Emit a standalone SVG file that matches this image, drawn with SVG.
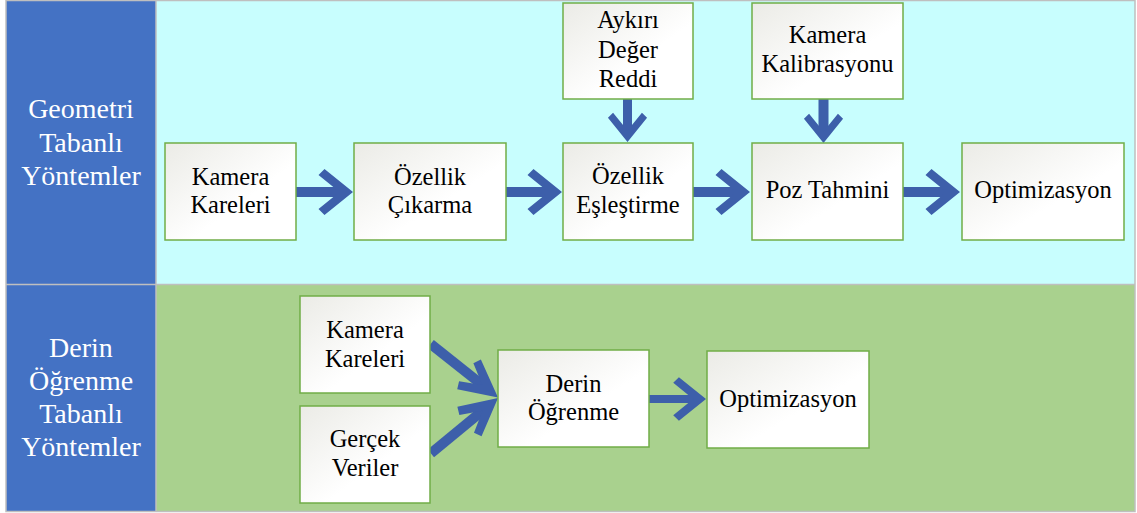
<svg xmlns="http://www.w3.org/2000/svg" xmlns:xlink="http://www.w3.org/1999/xlink" width="1137" height="513" viewBox="0 0 1137 513">
<style>
.nb{stroke:#70AD47;stroke-width:1.5;fill:url(#ng)}
.nt{font-family:"Times New Roman",Times,"Liberation Serif",Tinos,"Noto Serif","DejaVu Serif",serif;font-size:24.5px;fill:#000;text-anchor:middle}
.lt{font-family:"Times New Roman",Times,"Liberation Serif",Tinos,"Noto Serif","DejaVu Serif",serif;font-size:28px;fill:#fff;text-anchor:middle}
.ar{fill:#3D5FAA}
</style>
<defs>
<linearGradient id="ng" x1="0" y1="0" x2="1" y2="1">
<stop offset="0" stop-color="#EBEBE6"/>
<stop offset="0.6" stop-color="#FFFFFF"/>
<stop offset="1" stop-color="#FFFFFF"/>
</linearGradient>
<path id="head" d="M0,0 L-28.5,-23 L-34.5,-17 L-13.5,0 L-34.5,17 L-28.5,23 Z"/>
<path id="head2" d="M0,0 L-37,-19 L-40.6,-11.5 L-20,0 L-40.6,11.5 L-37,19 Z"/>
</defs>
<rect x="0" y="0" width="1137" height="513" fill="#FFFFFF"/>
<g id="panels">
<rect x="156" y="0.5" width="979" height="284" fill="#C8FEFE"/>
<rect x="156" y="284.5" width="979" height="227" fill="#A9D18E"/>
<rect x="6" y="0.5" width="150" height="511" fill="#4472C4"/>
<g stroke="#BFBFBF" stroke-width="1.5" fill="none">
<rect x="6" y="0.5" width="1129" height="511"/>
<line x1="6" y1="284.5" x2="1135" y2="284.5"/>
<line x1="156" y1="0.5" x2="156" y2="511.5"/>
</g>
<text class="lt"><tspan x="81" y="118">Geometri</tspan><tspan x="81" y="152">Tabanlı</tspan><tspan x="81" y="185">Yöntemler</tspan></text>
<text class="lt"><tspan x="81" y="357">Derin</tspan><tspan x="81" y="390">Öğrenme</tspan><tspan x="81" y="423">Tabanlı</tspan><tspan x="81" y="456">Yöntemler</tspan></text>
</g>
<g id="connectors" class="ar">
<g transform="translate(353,192)"><rect x="-57" y="-5" width="45" height="10"/><use xlink:href="#head"/></g>
<g transform="translate(562,192)"><rect x="-56" y="-5" width="44" height="10"/><use xlink:href="#head"/></g>
<g transform="translate(750,192)"><rect x="-57" y="-5" width="45" height="10"/><use xlink:href="#head"/></g>
<g transform="translate(960,192)"><rect x="-57" y="-5" width="45" height="10"/><use xlink:href="#head"/></g>
<g transform="translate(627.5,142) rotate(90)"><rect x="-43" y="-4.5" width="33" height="9"/><use xlink:href="#head" transform="scale(0.85)"/></g>
<g transform="translate(823.5,143) rotate(90)"><rect x="-44" y="-5" width="34" height="10"/><use xlink:href="#head" transform="scale(0.85)"/></g>
<g transform="translate(498,397.5) rotate(38.5)"><rect x="-86" y="-5" width="67" height="10"/><use xlink:href="#head2"/></g>
<g transform="translate(498,398) rotate(-39.5)"><rect x="-87" y="-5" width="68" height="10"/><use xlink:href="#head2"/></g>
<g transform="translate(706,399)"><rect x="-57" y="-4" width="45" height="8"/><use xlink:href="#head" transform="scale(0.95)"/></g>
</g>
<g id="n-kamera-kareleri"><rect class="nb" x="165" y="143" width="131" height="97"/><text class="nt"><tspan x="230.5" y="185">Kamera</tspan><tspan x="230.5" y="213">Kareleri</tspan></text></g>
<g id="n-ozellik-cikarma"><rect class="nb" x="354" y="143" width="152" height="97"/><text class="nt"><tspan x="430" y="185">Özellik</tspan><tspan x="430" y="213">Çıkarma</tspan></text></g>
<g id="n-aykiri"><rect class="nb" x="563" y="3" width="130" height="96"/><text class="nt"><tspan x="628" y="28">Aykırı</tspan><tspan x="628" y="58">Değer</tspan><tspan x="628" y="87">Reddi</tspan></text></g>
<g id="n-ozellik-eslestirme"><rect class="nb" x="563" y="143" width="130" height="97"/><text class="nt"><tspan x="628" y="184">Özellik</tspan><tspan x="628" y="213">Eşleştirme</tspan></text></g>
<g id="n-kalibrasyon"><rect class="nb" x="752" y="3" width="151" height="96"/><text class="nt"><tspan x="827.5" y="43">Kamera</tspan><tspan x="827.5" y="72">Kalibrasyonu</tspan></text></g>
<g id="n-poz"><rect class="nb" x="752" y="143" width="151" height="97"/><text class="nt" x="827.5" y="198">Poz Tahmini</text></g>
<g id="n-optim-1"><rect class="nb" x="962" y="143" width="162" height="97"/><text class="nt" x="1043" y="198">Optimizasyon</text></g>
<g id="n-kamera-kareleri-2"><rect class="nb" x="300" y="296" width="130" height="97"/><text class="nt"><tspan x="365" y="338">Kamera</tspan><tspan x="365" y="367">Kareleri</tspan></text></g>
<g id="n-gercek-veriler"><rect class="nb" x="300" y="406" width="130" height="97"/><text class="nt"><tspan x="365" y="447">Gerçek</tspan><tspan x="365" y="476">Veriler</tspan></text></g>
<g id="n-derin"><rect class="nb" x="498" y="350" width="151" height="97"/><text class="nt"><tspan x="573.5" y="392">Derin</tspan><tspan x="573.5" y="420">Öğrenme</tspan></text></g>
<g id="n-optim-2"><rect class="nb" x="707" y="351" width="162" height="97"/><text class="nt" x="788" y="407">Optimizasyon</text></g>
</svg>
